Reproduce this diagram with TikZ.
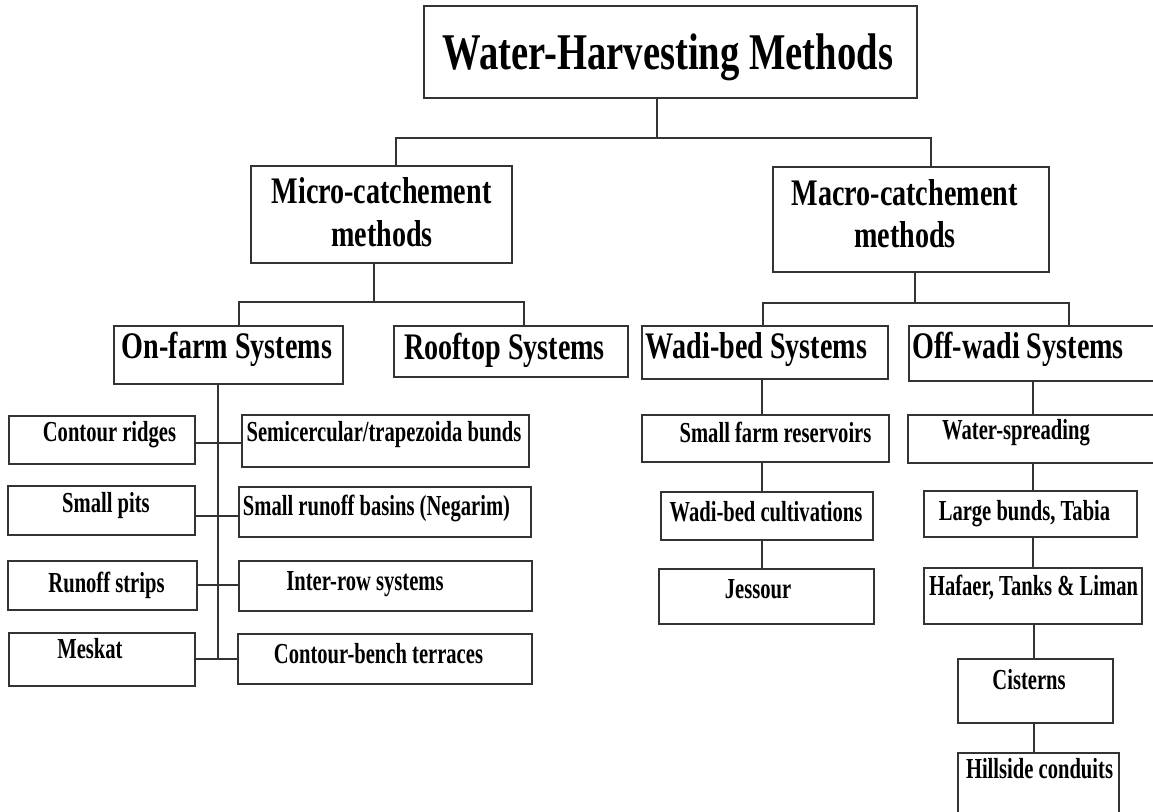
\documentclass[tikz,border=0pt]{standalone}
\usepackage{fontspec}
\newfontfamily\cf{Liberation Serif}[FakeStretch=0.75]
\newfontfamily\cfC{Liberation Serif}[FakeStretch=0.71]
\newcommand\mybox[5]{\node[box, minimum width=#4pt-#2pt, minimum height=#5pt-#3pt] (#1) at ({(#2+#4)/2},{(#3+#5)/2}) {};}
\begin{document}
\begin{tikzpicture}[x=1pt,y=-1pt,
  box/.style={draw=black!80, line width=1.2pt, inner sep=0pt, outer sep=0pt},
  conn/.style={draw=black!80, line width=1.2pt},
  tA/.style={inner sep=0pt, outer sep=0pt, anchor=base, font=\cf\bfseries\fontsize{51.5}{60}\selectfont},
  tB/.style={inner sep=0pt, outer sep=0pt, anchor=base, font=\cf\bfseries\fontsize{37.5}{43}\selectfont},
  tC/.style={inner sep=0pt, outer sep=0pt, anchor=base, font=\cfC\bfseries\fontsize{29}{33}\selectfont}]
\useasboundingbox[fill=white] (0,0) rectangle (1153,811);

% boxes
\mybox{title}{424}{6}{917}{98}
\mybox{micro}{251}{166}{512}{263}
\mybox{macro}{773}{167}{1049}{272}
\mybox{onfarm}{114}{326}{343}{384}
\mybox{rooftop}{394}{326}{628}{377}
\mybox{wadibed}{642}{326}{888}{379}
\mybox{offwadi}{909}{326}{1160}{381}
\mybox{L1}{9}{416}{195}{464}
\mybox{L2}{8}{486}{195}{535}
\mybox{L3}{8}{561}{197}{610}
\mybox{L4}{9}{633}{195}{686}
\mybox{R1}{242}{415}{529}{467}
\mybox{R2}{239}{487}{531}{537}
\mybox{R3}{239}{561}{532}{611}
\mybox{R4}{238}{634}{532}{684}
\mybox{W1}{642}{415}{889}{462}
\mybox{W2}{661}{492}{873}{540}
\mybox{W3}{659}{569}{874}{624}
\mybox{O1}{908}{415}{1160}{463}
\mybox{O2}{924}{491}{1137}{537}
\mybox{O3}{924}{568}{1142}{624}
\mybox{O4}{958}{659}{1113}{723}
\mybox{O5}{958}{753}{1119}{830}

% texts
\node[tA] (tTitle) at (668,69) {Water-Harvesting Methods};
\node[tB] (tMicroA) at (381.5,203) {Micro-catchement};
\node[tB] (tMicroB) at (382,246) {methods};
\node[tB] (tMacroA) at (904.5,205) {Macro-catchement};
\node[tB] (tMacroB) at (905,247) {methods};
\node[tB] (tOnfarm) at (227,358) {On-farm Systems};
\node[tB] (tRooftop) at (504.5,359) {Rooftop Systems};
\node[tB] (tWadibed) at (756.5,358) {Wadi-bed Systems};
\node[tB] (tOffwadi) at (1018,358) {Off-wadi Systems};
\node[tC] (tL1) at (109.5,441) {Contour ridges};
\node[tC] (tL2) at (106,512) {Small pits};
\node[tC] (tL3) at (106.5,592) {Runoff strips};
\node[tC] (tL4) at (90,658) {Meskat};
\node[tC] (tR1) at (384,441) {Semicercular/trapezoida bunds};
\node[tC] (tR2) at (376.5,515) {Small runoff basins (Negarim)};
\node[tC] (tR3) at (365,590) {Inter-row systems};
\node[tC] (tR4) at (378.5,663) {Contour-bench terraces};
\node[tC] (tW1) at (775.5,442) {Small farm reservoirs};
\node[tC] (tW2) at (766,521) {Wadi-bed cultivations};
\node[tC] (tW3) at (758,598) {Jessour};
\node[tC] (tO1) at (1016,439) {Water-spreading};
\node[tC] (tO2) at (1024.5,520) {Large bunds, Tabia};
\node[tC] (tO3) at (1033.5,595) {Hafaer, Tanks \& Liman};
\node[tC] (tO4) at (1029,689) {Cisterns};
\node[tC] (tO5) at (1039.5,778) {Hillside conduits};

% junction coordinates
\coordinate (jT) at (657,138);
\coordinate (jTL) at (396,138);
\coordinate (jTR) at (931,138);
\coordinate (jM) at (374,302);
\coordinate (jML) at (239,302);
\coordinate (jMR) at (524,302);
\coordinate (jA) at (915,303);
\coordinate (jAL) at (763,303);
\coordinate (jAR) at (1069,303);
\coordinate (sp) at (218,659);
\coordinate (b1) at (218,443);
\coordinate (b2) at (218,516);
\coordinate (b3) at (218,585);
\coordinate (b4) at (218,659);
\coordinate (cw) at (762,0);
\coordinate (co) at (1033,0);
\coordinate (co2) at (1034,0);

% connectors
\draw[conn] (title.south -| jT) -- (jT);
\draw[conn] (micro.north -| jTL) -- (jTL) -- (jTR) -- (macro.north -| jTR);
\draw[conn] (micro.south -| jM) -- (jM);
\draw[conn] (onfarm.north -| jML) -- (jML) -- (jMR) -- (rooftop.north -| jMR);
\draw[conn] (macro.south -| jA) -- (jA);
\draw[conn] (wadibed.north -| jAL) -- (jAL) -- (jAR) -- (offwadi.north -| jAR);
\draw[conn] (onfarm.south -| sp) -- (sp);
\draw[conn] (L1.east |- b1) -- (R1.west |- b1);
\draw[conn] (L2.east |- b2) -- (R2.west |- b2);
\draw[conn] (L3.east |- b3) -- (R3.west |- b3);
\draw[conn] (L4.east |- b4) -- (R4.west |- b4);
\draw[conn] (wadibed.south -| cw) -- (W1.north -| cw);
\draw[conn] (W1.south -| cw) -- (W2.north -| cw);
\draw[conn] (W2.south -| cw) -- (W3.north -| cw);
\draw[conn] (offwadi.south -| co) -- (O1.north -| co);
\draw[conn] (O1.south -| co) -- (O2.north -| co);
\draw[conn] (O2.south -| co) -- (O3.north -| co);
\draw[conn] (O3.south -| co2) -- (O4.north -| co2);
\draw[conn] (O4.south -| co2) -- (O5.north -| co2);
\end{tikzpicture}
\end{document}
